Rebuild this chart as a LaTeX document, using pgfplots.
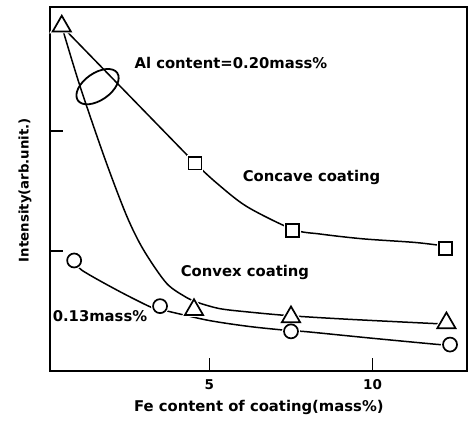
\documentclass[border=0pt]{standalone}
\usepackage{fontspec}
\setmainfont{DejaVu Sans}
\usepackage{pgfplots}
\pgfplotsset{compat=1.18}
\usetikzlibrary{shapes.geometric}
\begin{document}
\begin{tikzpicture}
\begin{axis}[
 scale only axis, width=417pt, height=364pt,
 at={(0,0)}, anchor=south west,
 xmin=0.12, xmax=12.89, ymin=0, ymax=3.03,
 axis line style={line width=1.8pt},
 tick align=inside, xtick pos=bottom, ytick pos=left,
 major tick length=13pt,
 tick style={line width=1.6pt, black},
 xtick={5,10}, xticklabels={5,10},
 ytick={1,2}, yticklabels={},
 xticklabel style={font=\fontsize{13.5}{14}\selectfont\bfseries, yshift=-5pt},
 xlabel={Fe content of coating(mass\%)},
 xlabel style={font=\fontsize{14.8}{16}\selectfont\bfseries, at={(axis description cs:0.501,-0.099)}, anchor=center},
 ylabel={Intensity(arb.unit.)},
 ylabel style={font=\fontsize{13.3}{15}\selectfont\bfseries, at={(axis description cs:-0.06,0.497)}, anchor=center},
 clip=false,
]
% concave coating line
\addplot[black, line width=1.5pt] coordinates {(0.48,2.87)(4.56,1.73)};
\addplot[black, line width=1.5pt, smooth] coordinates {(4.56,1.73)(5.2,1.57)(6.14,1.37)(7.55,1.18)(8.4,1.14)(9.71,1.10)(11.3,1.07)(12.23,1.04)};
% convex coating line
\addplot[black, line width=1.5pt, smooth] coordinates {(0.48,2.87)(1.04,2.37)(1.81,1.76)(2.47,1.29)(2.98,1.01)(3.69,0.73)(4.31,0.61)(4.53,0.58)(5.3,0.52)(6.24,0.49)(7.47,0.46)(9.3,0.43)(12.26,0.39)};
% 0.13 mass% line
\addplot[black, line width=1.5pt, smooth] coordinates {(0.86,0.92)(1.09,0.84)(2.16,0.675)(3.18,0.535)(3.49,0.515)(3.85,0.49)(5.0,0.42)(6.24,0.37)(7.5,0.335)(7.98,0.327)(9.9,0.275)(11.96,0.222)(12.37,0.215)};
% marker halos
\addplot[only marks, mark=triangle*, mark size=10.5pt, mark options={draw=white, fill=white, line width=4pt}] coordinates {(0.48,2.87)(4.53,0.51)(7.5,0.45)(12.26,0.40)};
\addplot[only marks, mark=square*, mark size=6.4pt, mark options={draw=white, fill=white, line width=4pt}] coordinates {(4.56,1.73)(7.55,1.17)(12.23,1.02)};
\addplot[only marks, mark=*, mark size=7pt, mark options={draw=white, fill=white, line width=4pt}] coordinates {(0.86,0.92)(3.49,0.54)(7.5,0.33)(12.37,0.22)};
% markers
\addplot[only marks, mark=triangle*, mark size=10.5pt, mark options={draw=black, fill=white, line width=1.7pt}] coordinates {(0.48,2.87)(4.53,0.51)(7.5,0.45)(12.26,0.40)};
\addplot[only marks, mark=square*, mark size=6.4pt, mark options={draw=black, fill=white, line width=1.7pt}] coordinates {(4.56,1.73)(7.55,1.17)(12.23,1.02)};
\addplot[only marks, mark=*, mark size=7pt, mark options={draw=black, fill=white, line width=1.7pt}] coordinates {(0.86,0.92)(3.49,0.54)(7.5,0.33)(12.37,0.22)};
% annotations
\node[draw, ellipse, line width=1.8pt, minimum width=48pt, minimum height=27pt, inner sep=0pt, rotate=35] at (axis cs:1.576,2.367) {};
\node[font=\fontsize{14.8}{16}\selectfont\bfseries] at (axis cs:5.66,2.567) {Al content=0.20mass\%};
\node[font=\fontsize{14.8}{16}\selectfont\bfseries] at (axis cs:8.13,1.608) {Concave coating};
\node[font=\fontsize{14.8}{16}\selectfont\bfseries] at (axis cs:6.09,0.817) {Convex coating};
\node[font=\fontsize{14.8}{16}\selectfont\bfseries] at (axis cs:1.65,0.458) {0.13mass\%};
\end{axis}
\pgfresetboundingbox
\path[use as bounding box] (-50pt,-50pt) rectangle (418pt,371pt);
\end{tikzpicture}
\end{document}
